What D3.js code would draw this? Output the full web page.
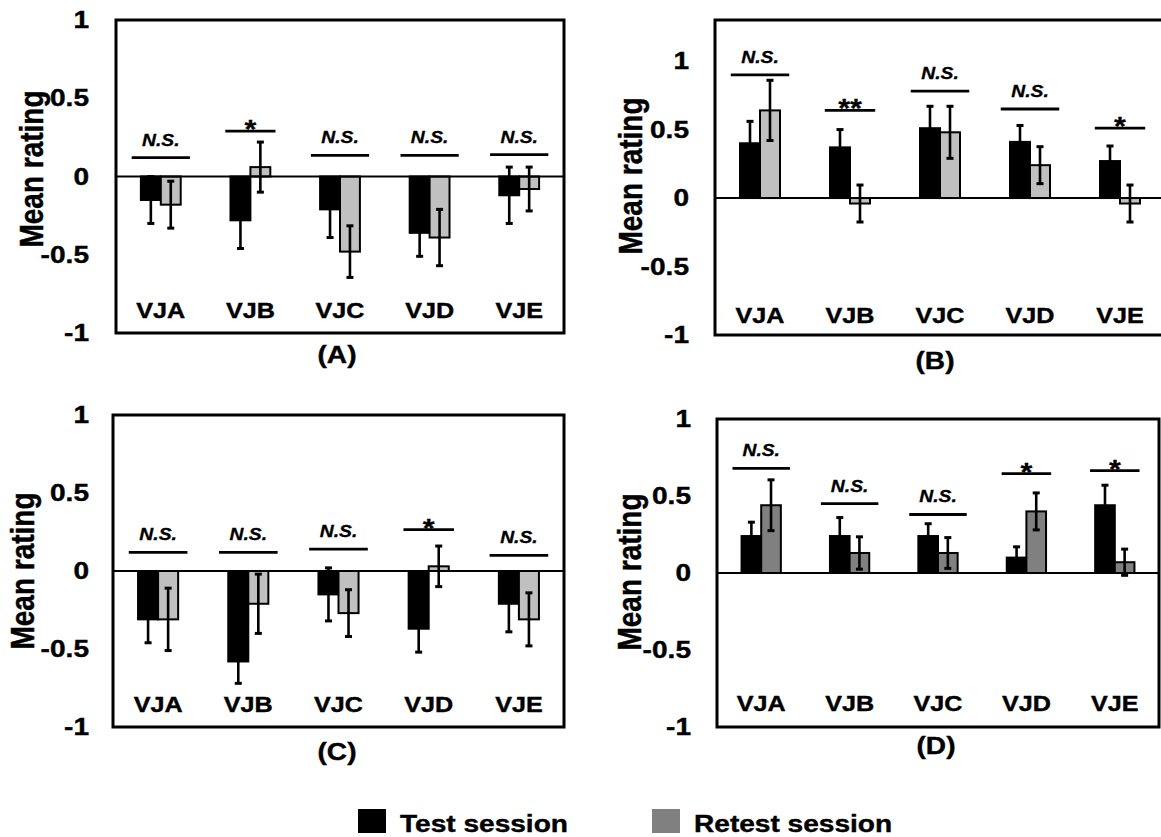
<!DOCTYPE html>
<html>
<head>
<meta charset="utf-8">
<script src="https://cdn.jsdelivr.net/npm/d3@7.9.0/dist/d3.min.js"></script>
<style>
  body { margin: 0; background: #fff; }
  svg { display: block; font-family: "Liberation Sans", Arial, sans-serif; }
</style>
</head>
<body>
<div id="chart"></div>
<script>
const categories = ["VJA", "VJB", "VJC", "VJD", "VJE"];
const yTicks = [-1, -0.5, 0, 0.5, 1];
const seriesNames = ["Test session", "Retest session"];

// panel A
const testA = [-0.15, -0.28, -0.21, -0.36, -0.12];
const testErrA = [0.15, 0.18, 0.18, 0.15, 0.18];
const retestA = [-0.18, 0.06, -0.48, -0.39, -0.08];
const retestErrA = [0.15, 0.16, 0.165, 0.18, 0.14];
const sigYA = [0.12, 0.29, 0.135, 0.135, 0.14];
const sigA = ["N.S.", "*", "N.S.", "N.S.", "N.S."];

// panel B
const testB = [0.40, 0.37, 0.51, 0.41, 0.27];
const testErrB = [0.16, 0.13, 0.16, 0.12, 0.11];
const retestB = [0.64, -0.04, 0.48, 0.24, -0.04];
const retestErrB = [0.22, 0.135, 0.19, 0.135, 0.135];
const sigYB = [0.90, 0.64, 0.78, 0.65, 0.51];
const sigB = ["N.S.", "**", "N.S.", "N.S.", "*"];

// panel C
const testC = [-0.31, -0.58, -0.15, -0.37, -0.21];
const testErrC = [0.15, 0.14, 0.17, 0.15, 0.18];
const retestC = [-0.31, -0.21, -0.27, 0.03, -0.31];
const retestErrC = [0.20, 0.19, 0.15, 0.13, 0.17];
const sigYC = [0.12, 0.12, 0.14, 0.265, 0.10];
const sigC = ["N.S.", "N.S.", "N.S.", "*", "N.S."];

// panel D
const testD = [0.24, 0.24, 0.24, 0.10, 0.44];
const testErrD = [0.09, 0.12, 0.08, 0.07, 0.13];
const retestD = [0.44, 0.13, 0.13, 0.40, 0.07];
const retestErrD = [0.165, 0.105, 0.10, 0.12, 0.085];
const sigYD = [0.68, 0.45, 0.38, 0.645, 0.665];
const sigD = ["N.S.", "N.S.", "N.S.", "*", "*"];

const width = 1161;
const height = 837;
const SX = 1.17; // the original figure is a bit wider than tall, text included

const panels = [
  {name: "(A)", test: testA, testErr: testErrA, retest: retestA, retestErr: retestErrA, sigY: sigYA, sig: sigA,
   yMax: 1, x0: 116, x1: 564, bandEnd: 564, y0: 20, y1: 333, tickPad: 27,
   titleX: 43, titleY: 169, catY: 318, labelX: 337, labelY: 363, retestColor: "#c0c0c0"},
  {name: "(B)", test: testB, testErr: testErrB, retest: retestB, retestErr: retestErrB, sigY: sigYB, sig: sigB,
   yMax: 1.3, x0: 715, x1: 1168, bandEnd: 1165, y0: 20, y1: 335, tickPad: 26,
   titleX: 642, titleY: 176, catY: 323, labelX: 935, labelY: 369, retestColor: "#c0c0c0"},
  {name: "(C)", test: testC, testErr: testErrC, retest: retestC, retestErr: retestErrC, sigY: sigYC, sig: sigC,
   yMax: 1, x0: 113, x1: 564, bandEnd: 564, y0: 415, y1: 727, tickPad: 24,
   titleX: 34, titleY: 571, catY: 712, labelX: 337, labelY: 760, retestColor: "#c0c0c0"},
  {name: "(D)", test: testD, testErr: testErrD, retest: retestD, retestErr: retestErrD, sigY: sigYD, sig: sigD,
   yMax: 1, x0: 717, x1: 1159, bandEnd: 1159, y0: 419, y1: 727, tickPad: 26,
   titleX: 641, titleY: 572, catY: 711, labelX: 936, labelY: 754, retestColor: "#808080"}
];

const svg = d3.select("#chart").append("svg")
    .attr("width", width)
    .attr("height", height);

function drawPanel(p) {
    const g = svg.append("g");

    const x = d3.scaleBand().domain(categories).range([p.x0, p.bandEnd]);
    const xs = d3.scaleBand().domain(["test", "retest"])
        .range([0, x.bandwidth()]).paddingOuter(1.25);
    const y = d3.scaleLinear().domain([-1, p.yMax]).range([p.y1, p.y0]);

    const rows = categories.map((c, i) => ({
        cat: c,
        sig: p.sig[i],
        sigY: p.sigY[i],
        vals: [
            {key: "test", v: p.test[i], e: p.testErr[i]},
            {key: "retest", v: p.retest[i], e: p.retestErr[i]}
        ]
    }));

    // y tick labels
    const axis = g.append("g")
        .attr("transform", `translate(${p.x0},0)`)
        .call(d3.axisLeft(y).tickValues(yTicks).tickSize(0)
            .tickPadding(p.tickPad).tickFormat(d => String(d)))
        .attr("font-size", null)
        .attr("font-family", null);
    axis.select(".domain").remove();
    axis.selectAll("text")
        .attr("font-size", 24)
        .attr("font-weight", "bold")
        .attr("fill", "#000")
        .attr("stroke", "#000")
        .attr("stroke-width", 0.4)
        .attr("x", 0)
        .attr("transform", `translate(${-p.tickPad},0) scale(${SX},1)`);

    // bars
    const grp = g.selectAll(".grp")
        .data(rows)
        .join("g")
        .attr("transform", d => `translate(${x(d.cat)},0)`);

    grp.selectAll("rect")
        .data(d => d.vals)
        .join("rect")
        .attr("x", d => xs(d.key))
        .attr("width", xs.bandwidth())
        .attr("y", d => y(Math.max(0, d.v)))
        .attr("height", d => Math.abs(y(d.v) - y(0)))
        .attr("fill", d => d.key === "test" ? "#000" : p.retestColor)
        .attr("stroke", "#000")
        .attr("stroke-width", 2);

    // zero line
    g.append("line")
        .attr("x1", p.x0).attr("x2", p.x1)
        .attr("y1", y(0)).attr("y2", y(0))
        .attr("stroke", "#000")
        .attr("stroke-width", 2);

    // error bars
    const err = grp.selectAll(".err")
        .data(d => d.vals)
        .join("g")
        .attr("class", "err")
        .attr("transform", d => `translate(${xs(d.key) + xs.bandwidth() / 2},0)`)
        .attr("stroke", "#000");
    err.append("line")
        .attr("y1", d => y(d.v - d.e)).attr("y2", d => y(d.v + d.e))
        .attr("stroke-width", 2.6);
    err.append("line")
        .attr("x1", -3.5).attr("x2", 3.5)
        .attr("y1", d => y(d.v + d.e)).attr("y2", d => y(d.v + d.e))
        .attr("stroke-width", 3);
    err.append("line")
        .attr("x1", -3.5).attr("x2", 3.5)
        .attr("y1", d => y(d.v - d.e)).attr("y2", d => y(d.v - d.e))
        .attr("stroke-width", 3);

    // significance bars
    const cx = x.bandwidth() / 2;
    grp.append("line")
        .attr("x1", d => cx - x.bandwidth() * (d.sig === "N.S." ? 0.325 : 0.28))
        .attr("x2", d => cx + x.bandwidth() * (d.sig === "N.S." ? 0.325 : 0.28))
        .attr("y1", d => y(d.sigY)).attr("y2", d => y(d.sigY))
        .attr("stroke", "#000")
        .attr("stroke-width", 2.8);
    grp.append("text")
        .attr("text-anchor", "middle")
        .attr("font-weight", "bold")
        .attr("font-style", d => d.sig === "N.S." ? "italic" : "normal")
        .attr("font-size", d => d.sig === "N.S." ? 16.5 : 26)
        .attr("stroke", "#000")
        .attr("stroke-width", 0.3)
        .attr("transform", d => `translate(${cx},${y(d.sigY) + (d.sig === "N.S." ? -12 : 7)}) scale(${SX},1)`)
        .text(d => d.sig);

    // category labels
    grp.append("text")
        .attr("text-anchor", "middle")
        .attr("font-weight", "bold")
        .attr("font-size", 21.5)
        .attr("stroke", "#000")
        .attr("stroke-width", 0.4)
        .attr("transform", `translate(${cx},${p.catY}) scale(${SX},1)`)
        .text(d => d.cat);

    // frame
    g.append("rect")
        .attr("x", p.x0).attr("y", p.y0)
        .attr("width", p.x1 - p.x0).attr("height", p.y1 - p.y0)
        .attr("fill", "none")
        .attr("stroke", "#000")
        .attr("stroke-width", 3);

    // y title
    g.append("text")
        .attr("text-anchor", "middle")
        .attr("font-weight", "bold")
        .attr("font-size", 28)
        .attr("stroke", "#000")
        .attr("stroke-width", 0.4)
        .attr("transform", `translate(${p.titleX},${p.titleY}) scale(${SX},1) rotate(-90)`)
        .text("Mean rating");

    // panel label
    g.append("text")
        .attr("text-anchor", "middle")
        .attr("font-weight", "bold")
        .attr("font-size", 24)
        .attr("stroke", "#000")
        .attr("stroke-width", 0.4)
        .attr("transform", `translate(${p.labelX},${p.labelY}) scale(${SX},1)`)
        .text(p.name);
}

panels.forEach(drawPanel);

// legend
const legendColors = ["#000", "#808080"];
const legendX = [358, 652];
const legend = svg.selectAll(".legend")
    .data(seriesNames)
    .join("g")
    .attr("class", "legend")
    .attr("transform", (d, i) => `translate(${legendX[i]},809)`);

legend.append("rect")
    .attr("width", 28)
    .attr("height", 24)
    .attr("fill", (d, i) => legendColors[i]);

legend.append("text")
    .attr("font-weight", "bold")
    .attr("font-size", 24)
    .attr("stroke", "#000")
    .attr("stroke-width", 0.4)
    .attr("transform", `translate(42,23) scale(${SX},1)`)
    .text(d => d);
</script>
</body>
</html>
